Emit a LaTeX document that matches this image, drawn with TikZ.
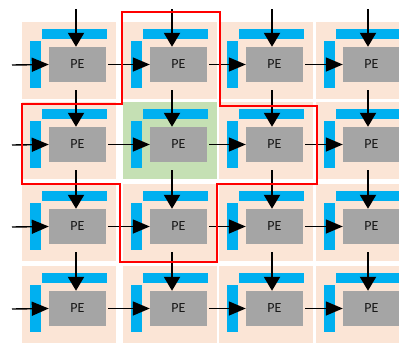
\documentclass[tikz,border=0pt]{standalone}
\usepackage{fontspec}
\setmainfont{Carlito}
\usetikzlibrary{arrows.meta}
\definecolor{cellbg}{HTML}{FBE5D6}
\definecolor{cellgreen}{HTML}{C5E0B4}
\definecolor{barblue}{HTML}{00B0F0}
\definecolor{pegray}{HTML}{A5A5A5}
\definecolor{redline}{HTML}{FF0000}
\begin{document}
\begin{tikzpicture}[x=1pt,y=-1pt,
  pebox/.style={rectangle,fill=pegray,minimum width=57pt,minimum height=35pt,inner sep=0pt,font=\fontsize{14}{14}\selectfont,text=black!90},
  varrow/.style={line width=2pt,-{Triangle[length=14pt,width=16pt]}},
  harrow/.style={line width=1.4pt,-{Triangle[length=17pt,width=14pt]}},
  barstyle/.style={fill=barblue},
  region/.style={draw=redline,line width=2.5pt}]
\useasboundingbox (0,0) rectangle (399,343);
\clip (0,0) rectangle (399,343);
\foreach \c/\x in {0/49,1/150,2/246,3/343}{
  \foreach \r/\y in {0/47,1/127,2/209,3/291}{
    \def\bgcol{cellbg}
    \ifnum\r\c=11 \def\bgcol{cellgreen}\fi
    \fill[\bgcol] (\x-27,\y-25) rectangle ++(94,77);
    \fill[barstyle] (\x-7,\y-18) rectangle (\x+58,\y-8);
    \fill[barstyle] (\x-19,\y-6) rectangle (\x-8,\y+41);
    \node[pebox] (pe-\r-\c) at (\x+28.5,\y+17.5) {PE};
  }
}
% top inputs
\foreach \c/\x in {0/76,1/172,2/272,3/368}{
  \coordinate (top-\c) at (\x,9);
  \draw[varrow] (top-\c) -- (pe-0-\c.north -| top-\c);
}
% left inputs
\foreach \r/\y in {0/65,1/145,2/227,3/309}{
  \coordinate (left-\r) at (12,\y);
  \draw[harrow] (left-\r) -- (pe-\r-0.west);
}
% vertical links
\foreach \r/\s in {0/1,1/2,2/3}{
  \foreach \c in {0,1,2,3}{
    \draw[varrow] ([yshift=-8pt]pe-\r-\c.south -| top-\c) -- (pe-\s-\c.north -| top-\c);
  }
}
% horizontal links
\foreach \c/\d in {0/1,1/2,2/3}{
  \foreach \r in {0,1,2,3}{
    \draw[harrow] ([xshift=2pt]pe-\r-\c.east) -- (pe-\r-\d.west);
  }
}
% neighbourhood outline
\draw[region] (122,12) -- (220,12) -- (220,106) -- (317,106) -- (317,184) -- (217,184) -- (217,262) -- (120,262) -- (120,184) -- (22,184) -- (22,104) -- (122,104) -- cycle;
\end{tikzpicture}
\end{document}
